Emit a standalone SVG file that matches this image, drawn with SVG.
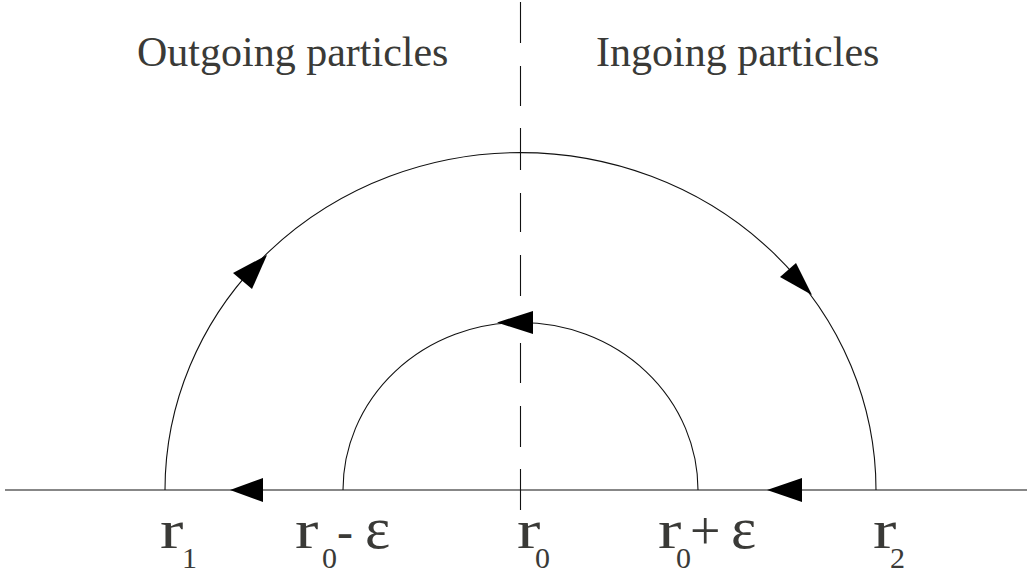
<svg xmlns="http://www.w3.org/2000/svg" width="1027" height="576" viewBox="0 0 1027 576">
<style>
.ln{fill:none;stroke:#111;stroke-width:1.1}
.ah{fill:#000;stroke:none}
.t{font-family:"Liberation Serif","Times New Roman",serif;fill:#3a3a37}
.title{font-size:42px}
.r{font-size:54px}
.sub{font-size:30px}
.op{font-size:48px}
.pl{font-size:54px}
.ep{font-size:60px}
</style>
<rect width="1027" height="576" fill="#fff"/>
<g id="titles">
<text class="t title" x="137" y="66">Outgoing particles</text>
<text class="t title" x="596" y="66">Ingoing particles</text>
</g>
<g id="axis">
<line class="ln" x1="5" y1="490" x2="1027" y2="490"/>
<path class="ln" d="M520.5 2V43M520.5 66V106M520.5 128V170M520.5 193V232M520.5 255V296M520.5 343V383M520.5 406V447M520.5 469V510"/>
</g>
<g id="connectors">
<path class="ln" d="M165 490A355.5 337.5 0 0 1 876 490"/>
<path class="ln" d="M343 490A177.5 167.5 0 0 1 698 490"/>
<polygon class="ah" points="230,490 263,478 263,502"/>
<polygon class="ah" points="767,490 802,478 802,502"/>
<polygon class="ah" points="497,322.5 533,311 533,334"/>
<polygon class="ah" points="267,255 233,273 252,289"/>
<polygon class="ah" points="812,295 780,277 796,263"/>
</g>
<g id="label-r1">
<text class="t r" transform="translate(160,548) scale(1.3,1)">r</text>
<text class="t sub" x="182" y="568">1</text>
</g>
<g id="label-r0-minus">
<text class="t r" transform="translate(295,548) scale(1.3,1)">r</text>
<text class="t sub" x="322" y="568">0</text>
<text class="t op" x="337" y="548">-</text>
<text class="t ep" x="365" y="548">ε</text>
</g>
<g id="label-r0">
<text class="t r" transform="translate(517,548) scale(1.3,1)">r</text>
<text class="t sub" x="535" y="568">0</text>
</g>
<g id="label-r0-plus">
<text class="t r" transform="translate(658,548) scale(1.3,1)">r</text>
<text class="t sub" x="676" y="568">0</text>
<text class="t pl" x="690" y="549">+</text>
<text class="t ep" x="731" y="548">ε</text>
</g>
<g id="label-r2">
<text class="t r" transform="translate(873,548) scale(1.3,1)">r</text>
<text class="t sub" x="890" y="568">2</text>
</g>
</svg>
